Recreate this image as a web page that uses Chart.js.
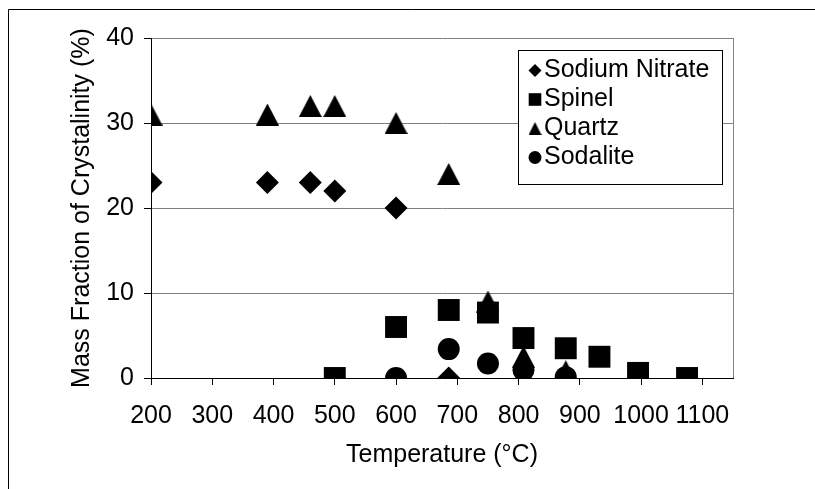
<!DOCTYPE html>
<html>
<head>
<meta charset="utf-8">
<script src="https://cdn.jsdelivr.net/npm/chart.js@4.4.0/dist/chart.umd.min.js"></script>
<style>
  html, body { margin: 0; padding: 0; background: #fff; }
  canvas { display: block; }
</style>
</head>
<body>
<canvas id="myChart" width="815" height="489"></canvas>
<script>
// temperature (°C) / mass fraction of crystalinity (%) for each phase
const nitrateTemp = [200, 390, 460, 500, 600, 686];
const nitrateVal  = [23, 23, 23, 22, 20, 0];

const spinelTemp = [500, 600, 686, 750, 808, 877, 932, 995, 1075];
const spinelVal  = [0, 6, 8, 7.7, 4.7, 3.5, 2.5, 0.6, 0];

const quartzTemp = [200, 390, 460, 500, 600, 686, 750, 808, 877, 995];
const quartzVal  = [31, 31, 32, 32, 30, 24, 9, 2.5, 0.8, 0];

const sodaliteTemp = [600, 686, 750, 808, 877];
const sodaliteVal  = [0, 3.4, 1.7, 0.9, 0.1];

const seriesNames = ['Sodium Nitrate', 'Spinel', 'Quartz', 'Sodalite'];
const xTicks = [200, 300, 400, 500, 600, 700, 800, 900, 1000, 1100];
const yTicks = [0, 10, 20, 30, 40];

const FONT = 'Liberation Sans, Arial, sans-serif';
Chart.defaults.font.family = FONT;
Chart.defaults.font.size = 25;
Chart.defaults.color = '#000';

function pts(xs, ys) {
    return xs.map((x, i) => ({ x: x, y: ys[i] }));
}

// excel style triangle (bounding box centred on the point)
function triangleMarker(w, h) {
    const c = document.createElement('canvas');
    c.width = w;
    c.height = h;
    const g = c.getContext('2d');
    g.fillStyle = '#000';
    g.beginPath();
    g.moveTo(w / 2, 0);
    g.lineTo(w, h);
    g.lineTo(0, h);
    g.closePath();
    g.fill();
    return c;
}
const bigTriangle = triangleMarker(23, 22);
const smallTriangle = triangleMarker(13, 13);

const legendMarkers = ['diamond', 'square', 'triangle', 'circle'];

function drawLegendMarker(ctx, kind, x, y) {
    ctx.fillStyle = '#000';
    ctx.beginPath();
    if (kind === 'diamond') {
        ctx.moveTo(x - 6.5, y); ctx.lineTo(x, y - 6.5); ctx.lineTo(x + 6.5, y); ctx.lineTo(x, y + 6.5);
        ctx.closePath(); ctx.fill();
    } else if (kind === 'square') {
        ctx.fillRect(x - 6.3, y - 6.3, 12.6, 12.6);
    } else if (kind === 'triangle') {
        ctx.drawImage(smallTriangle, x - 6.5, y - 6.5);
    } else {
        ctx.arc(x, y, 6.5, 0, Math.PI * 2); ctx.fill();
    }
}

const framePlugin = {
    id: 'frame',
    beforeDraw(chart) {
        const ctx = chart.ctx;
        ctx.save();
        ctx.strokeStyle = '#000';
        ctx.lineWidth = 1;
        ctx.beginPath();
        ctx.moveTo(8.5, chart.height);
        ctx.lineTo(8.5, 9.5);
        ctx.lineTo(chart.width, 9.5);
        ctx.stroke();
        ctx.restore();
    },
    beforeDatasetsDraw(chart) {
        const a = chart.chartArea;
        const ctx = chart.ctx;
        ctx.save();
        ctx.strokeStyle = '#808080';
        ctx.lineWidth = 1;
        ctx.beginPath();
        ctx.moveTo(Math.round(a.right) + 0.5, a.top);
        ctx.lineTo(Math.round(a.right) + 0.5, a.bottom);
        ctx.stroke();
        ctx.restore();
    },
    afterDraw(chart) {
        const ctx = chart.ctx;
        const box = { left: 518, top: 50, right: 722, bottom: 184 };
        ctx.save();
        ctx.fillStyle = '#fff';
        ctx.fillRect(box.left, box.top, box.right - box.left, box.bottom - box.top);
        ctx.strokeStyle = '#000';
        ctx.lineWidth = 1;
        ctx.strokeRect(box.left + 0.5, box.top + 0.5, box.right - box.left, box.bottom - box.top);
        ctx.font = '25px ' + FONT;
        ctx.textBaseline = 'middle';
        ctx.textAlign = 'left';
        chart.data.datasets.forEach((ds, i) => {
            const y = 70.5 + i * 29;
            drawLegendMarker(ctx, legendMarkers[i], 535, y);
            ctx.fillStyle = '#000';
            ctx.fillText(ds.label, 544, y);
        });
        ctx.restore();
    }
};

const ctx = document.getElementById('myChart').getContext('2d');
const chart = new Chart(ctx, {
    type: 'scatter',
    data: {
        datasets: [{
            label: seriesNames[0],
            data: pts(nitrateTemp, nitrateVal),
            pointStyle: 'rectRot',
            pointRadius: 11.5,
            backgroundColor: '#000',
            borderWidth: 0,
            order: 4
        }, {
            label: seriesNames[1],
            data: pts(spinelTemp, spinelVal),
            pointStyle: 'rect',
            pointRadius: 15.5,
            backgroundColor: '#000',
            borderWidth: 0,
            order: 3
        }, {
            label: seriesNames[2],
            data: pts(quartzTemp, quartzVal),
            pointStyle: bigTriangle,
            pointRadius: 11,
            backgroundColor: '#000',
            borderWidth: 0,
            order: 2
        }, {
            label: seriesNames[3],
            data: pts(sodaliteTemp, sodaliteVal),
            pointStyle: 'circle',
            pointRadius: 11,
            backgroundColor: '#000',
            borderWidth: 0,
            order: 1
        }]
    },
    options: {
        responsive: false,
        animation: false,
        devicePixelRatio: 1,
        layout: { padding: { top: 38, right: 82, bottom: 0, left: 0 } },
        plugins: {
            legend: { display: false },
            tooltip: { enabled: false }
        },
        scales: {
            x: {
                type: 'linear',
                min: 200,
                max: 1150,
                afterFit: s => { s.height = 111; },
                afterBuildTicks: s => { s.ticks = xTicks.map(v => ({ value: v })); },
                grid: { drawOnChartArea: false, drawTicks: true, tickLength: 7, tickColor: '#000' },
                border: { color: '#000', width: 1 },
                ticks: { padding: 16, maxRotation: 0, autoSkip: false, callback: v => String(v) },
                title: { display: true, text: 'Temperature (°C)', padding: { top: 0, bottom: 19 } }
            },
            y: {
                min: 0,
                max: 40,
                afterFit: s => { s.width = 151; },
                afterBuildTicks: s => { s.ticks = yTicks.map(v => ({ value: v })); },
                grid: { color: '#808080', drawTicks: true, tickLength: 7, tickColor: '#000' },
                border: { color: '#000', width: 1 },
                ticks: { padding: 10, callback: v => String(v) },
                title: { display: true, text: 'Mass Fraction of Crystalinity (%)', padding: { top: 67, bottom: 0 } }
            }
        }
    },
    plugins: [framePlugin]
});
</script>
</body>
</html>
